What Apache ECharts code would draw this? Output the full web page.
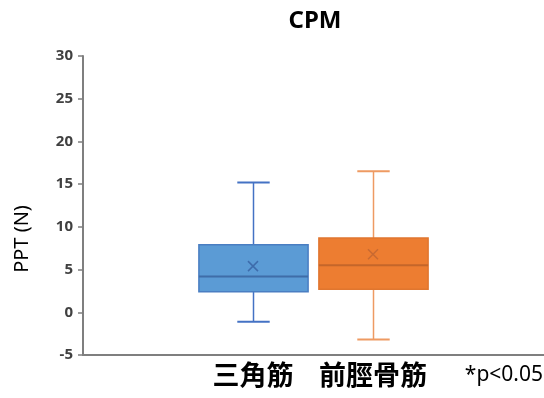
<!DOCTYPE html>
<html>
<head>
<meta charset="utf-8">
<script src="https://cdn.jsdelivr.net/npm/echarts@6/dist/echarts.min.js"></script>
<style>
  html, body { margin: 0; padding: 0; background: #fff; }
  #chart { width: 544px; height: 398px; }
</style>
</head>
<body>
<div id="chart"></div>
<script>
// Pressure pain threshold (PPT, N) during CPM, per muscle
const categories = ['三角筋', '前脛骨筋'];
const lowWhisker = [-1.1, -3.2];
const lowerQuartile = [2.4, 2.7];
const medianValues = [4.2, 5.5];
const upperQuartile = [7.9, 8.7];
const highWhisker = [15.2, 16.5];
const meanValues = [5.4, 6.8];
const yTicks = { min: -5, max: 30, step: 5 };

const palette = [
  { fill: '#5B9BD5', border: '#4A7EC2', median: '#3F6DA8', whisker: '#4472C4', mean: '#3E6CAB' },
  { fill: '#ED7D31', border: '#E0762F', median: '#C4662A', whisker: '#EE9A62', mean: '#C86A32' }
];

const boxData = categories.map((c, i) => [
  i, lowWhisker[i], lowerQuartile[i], medianValues[i], upperQuartile[i], highWhisker[i], meanValues[i]
]);

const chart = echarts.init(document.getElementById('chart'), null, { renderer: 'canvas' });

const textFont = '"Noto Sans", "Open Sans", sans-serif';
const cjkFont = '"Noto Sans CJK JP", "Noto Sans CJK SC", sans-serif';

function renderBox(params, api) {
  const idx = api.value(0);
  const c = palette[idx];
  const band = api.size([1, 0])[0];
  const boxW = band * 0.91;
  const capW = band * 0.27;
  const lo = api.coord([idx, api.value(1)]);
  const q1 = api.coord([idx, api.value(2)]);
  const med = api.coord([idx, api.value(3)]);
  const q3 = api.coord([idx, api.value(4)]);
  const hi = api.coord([idx, api.value(5)]);
  const mean = api.coord([idx, api.value(6)]);
  const cx = Math.round(lo[0]) + 0.5;
  const half = boxW / 2;
  const m = 5;
  const line = (x1, y1, x2, y2, color, w) => ({
    type: 'line',
    shape: { x1, y1, x2, y2 },
    style: { stroke: color, lineWidth: w || 1.5 }
  });
  return {
    type: 'group',
    children: [
      line(cx, hi[1], cx, q3[1], c.whisker),
      line(cx, q1[1], cx, lo[1], c.whisker),
      line(cx - capW / 2, hi[1], cx + capW / 2, hi[1], c.whisker, 2),
      line(cx - capW / 2, lo[1], cx + capW / 2, lo[1], c.whisker, 2),
      {
        type: 'rect',
        shape: { x: cx - half, y: q3[1], width: boxW, height: q1[1] - q3[1] },
        style: { fill: c.fill, stroke: c.border, lineWidth: 1.5 }
      },
      line(cx - half, med[1], cx + half, med[1], c.median, 2),
      line(mean[0] - m, mean[1] - m, mean[0] + m, mean[1] + m, c.mean, 1.5),
      line(mean[0] - m, mean[1] + m, mean[0] + m, mean[1] - m, c.mean, 1.5)
    ]
  };
}

const option = {
  backgroundColor: '#ffffff',
  animation: false,
  title: {
    text: 'CPM',
    left: 310,
    top: 4,
    textAlign: 'center',
    textStyle: { fontFamily: textFont, fontSize: 24, fontWeight: 'bold', color: '#000' }
  },
  grid: [
    { left: 83, right: 0, top: 56, bottom: 43 },
    { left: 193, width: 240, top: 56, bottom: 43 }
  ],
  xAxis: [
    {
      gridIndex: 0,
      type: 'category',
      data: [''],
      axisLine: { onZero: false, lineStyle: { color: '#7F7F7F', width: 2 } },
      axisTick: { show: false },
      axisLabel: { show: false },
      splitLine: { show: false }
    },
    {
      gridIndex: 1,
      type: 'category',
      data: categories,
      axisLine: { show: false, onZero: false },
      axisTick: { show: false },
      axisLabel: {
        interval: 0,
        hideOverlap: false,
        margin: 6,
        fontFamily: cjkFont,
        fontSize: 27,
        fontWeight: 'bold',
        color: '#000'
      }
    }
  ],
  yAxis: [
    {
      gridIndex: 0,
      type: 'value',
      min: yTicks.min,
      max: yTicks.max,
      interval: yTicks.step,
      axisLine: { show: true, lineStyle: { color: '#7F7F7F', width: 2 } },
      axisTick: { show: true, length: 5, lineStyle: { color: '#7F7F7F', width: 1.5 } },
      axisLabel: {
        margin: 10,
        fontFamily: textFont,
        fontSize: 15,
        fontWeight: 'bold',
        color: '#404040'
      },
      splitLine: { show: false }
    },
    {
      gridIndex: 1,
      type: 'value',
      min: yTicks.min,
      max: yTicks.max,
      interval: yTicks.step,
      show: false
    }
  ],
  graphic: [
    {
      type: 'text',
      x: 22,
      y: 239,
      rotation: Math.PI / 2,
      style: {
        text: 'PPT (N)',
        fontFamily: textFont,
        fontSize: 20,
        fill: '#000',
        textAlign: 'center',
        textVerticalAlign: 'middle'
      }
    },
    {
      type: 'text',
      right: 1,
      top: 365,
      style: {
        text: '*p<0.05',
        fontFamily: textFont,
        fontSize: 21,
        fill: '#000'
      }
    }
  ],
  series: [
    {
      type: 'custom',
      xAxisIndex: 1,
      yAxisIndex: 1,
      renderItem: renderBox,
      encode: { x: 0, y: [1, 2, 3, 4, 5, 6] },
      data: boxData
    }
  ]
};

chart.setOption(option);
</script>
</body>
</html>
